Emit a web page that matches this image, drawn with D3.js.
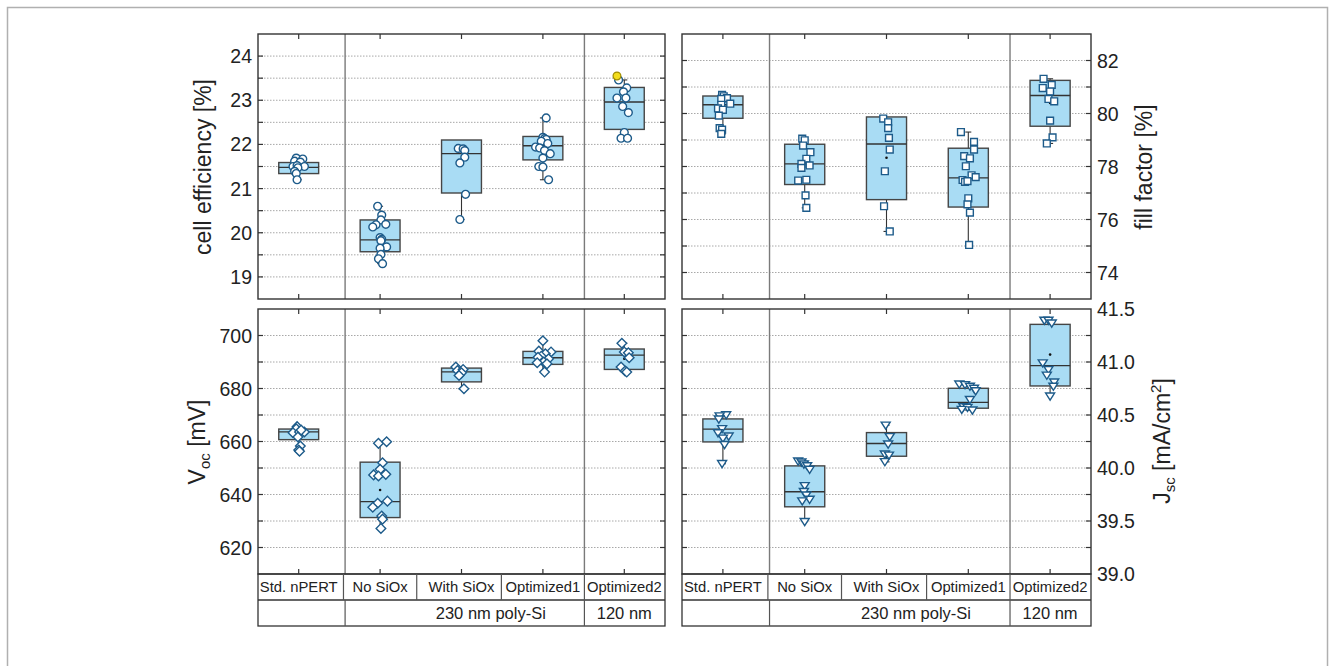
<!DOCTYPE html>
<html>
<head>
<meta charset="utf-8">
<script src="https://cdn.jsdelivr.net/npm/d3@7"></script>
<style>
  html, body { margin: 0; padding: 0; background: #fff; }
  svg { display: block; }
  text { font-family: "Liberation Sans", Arial, Helvetica, sans-serif; fill: #222; }
</style>
</head>
<body>
<svg id="chart" width="1329" height="666"></svg>
<script>
// ---------------- DATA ----------------
const categories = ["Std. nPERT", "No SiOx", "With SiOx", "Optimized1", "Optimized2"];
const groupLabels = ["230 nm poly-Si", "120 nm"];

const effTicks = [19, 20, 21, 22, 23, 24];
const ffTicks = [74, 76, 78, 80, 82];
const vocTicks = [620, 640, 660, 680, 700];
const jscTicks = [39.0, 39.5, 40.0, 40.5, 41.0, 41.5];

// points: [value, jitter in category units]
const effPoints = [
  [[21.69,-0.03],[21.67,0.05],[21.62,-0.05],[21.60,0.02],[21.50,-0.07],[21.52,-0.02],[21.50,0.07],[21.47,-0.01],[21.39,-0.05],[21.34,-0.03],[21.20,-0.02]],
  [[20.60,-0.03],[20.40,0.02],[20.29,0.01],[20.18,-0.05],[20.13,-0.09],[20.19,0.07],[19.89,0],[19.85,0.02],[19.82,0.01],[19.68,0.08],[19.65,0],[19.51,0.01],[19.41,-0.02],[19.30,0.03]],
  [[21.91,-0.04],[21.90,0.02],[21.86,0.04],[21.71,0.04],[21.58,-0.02],[20.87,0.05],[20.30,-0.02]],
  [[22.60,0.04],[22.16,0],[22.13,0.02],[22.11,0.04],[22.07,-0.02],[22.02,0.06],[21.94,-0.09],[21.92,-0.04],[21.86,0.02],[21.79,0.09],[21.69,0],[21.50,-0.05],[21.49,0],[21.20,0.07]],
  [[23.46,-0.07],[23.28,0.03],[23.19,-0.01],[23.05,-0.09],[23.05,0.02],[22.86,-0.02],[22.72,0.05],[22.27,0],[22.14,-0.04],[22.14,0.04]]
];
const effBest = [[4, 23.55, -0.09]]; // [category index, value, jitter]
const effBoxes = [[21.34,21.48,21.59],[19.57,19.84,20.29],[20.90,21.79,22.10],[21.65,21.97,22.18],[22.34,22.96,23.29]];
const effMeans = [null, null, null, null, null];

const ffPoints = [
  [[80.70,-0.01],[80.65,0.01],[80.58,0.05],[80.55,-0.02],[80.37,0.09],[80.33,-0.02],[80.19,-0.06],[80.14,0],[79.92,-0.05],[79.45,-0.04],[79.39,-0.01],[79.23,-0.02]],
  [[79.05,-0.03],[78.99,0],[78.79,-0.02],[78.54,0.07],[78.29,0.02],[78.10,-0.04],[78.04,0.06],[77.95,-0.04],[77.47,-0.08],[77.50,0.02],[76.91,0.01],[76.44,0.02]],
  [[79.81,-0.04],[79.67,0.02],[79.45,0.02],[79.08,0.03],[78.64,0.04],[77.82,-0.02],[76.50,-0.03],[75.55,0.04]],
  [[79.30,-0.09],[78.93,0.07],[78.64,0.07],[78.39,-0.05],[78.31,0.02],[78.01,-0.03],[77.67,0.04],[77.60,0.09],[77.49,-0.07],[77.42,-0.04],[77.45,-0.01],[76.80,0],[76.57,-0.01],[76.26,0.02],[75.04,0.01]],
  [[81.31,-0.08],[81.08,0.02],[80.96,-0.09],[80.83,0],[80.55,-0.02],[80.46,0.05],[79.73,0],[79.10,0.03],[78.87,-0.04]]
];
const ffBoxes = [[79.82,80.33,80.66],[77.32,78.10,78.84],[76.75,78.85,79.87],[76.47,77.57,78.69],[79.52,80.68,81.25]];
const ffMeans = [null, null, 78.33, null, 80.40];

const vocPoints = [
  [[665.6,-0.02],[664.8,-0.03],[663.3,-0.07],[663.6,0.01],[663.6,0.07],[664.3,0.03],[661.7,-0.01],[658.3,0.02],[656.8,0],[656.3,0.01]],
  [[659.3,-0.02],[659.9,0.08],[652.0,0.03],[649.5,0],[647.4,-0.08],[647.0,-0.02],[647.6,0.07],[637.5,0.09],[636.7,-0.03],[635.2,-0.09],[631.9,0.02],[630.7,0.03],[627.2,0.01]],
  [[688.1,-0.07],[686.8,-0.05],[687.2,0.02],[685.9,0],[684.9,-0.03],[679.9,0.03]],
  [[698.0,0],[694.1,-0.05],[693.8,0.1],[693.1,0.03],[692.2,-0.02],[691.8,-0.06],[691.2,0.07],[690.0,0.01],[689.7,-0.07],[689.3,0.05],[686.2,0.02]],
  [[697.1,-0.03],[693.8,0],[693.5,0.05],[691.6,0.06],[688.1,-0.04],[686.6,0.01],[686.2,0.03]]
];
const vocBoxes = [[660.7,663.6,664.7],[631.3,637.3,652.2],[682.5,686.3,687.7],[689.1,691.6,694.0],[687.2,692.6,694.9]];
const vocMeans = [null, 641.7, null, null, 691.2];

const jscPoints = [
  [[40.50,0.04],[40.49,-0.04],[40.46,-0.05],[40.37,-0.01],[40.33,-0.06],[40.30,0.07],[40.28,0],[40.22,0.02],[40.04,-0.01]],
  [[40.064,-0.08],[40.055,-0.04],[40.036,-0.01],[40.02,0.03],[39.986,0.06],[39.832,0],[39.776,-0.01],[39.744,0.02],[39.703,0.06],[39.688,-0.03],[39.493,0]],
  [[40.403,-0.01],[40.294,0.04],[40.224,0.02],[40.13,-0.02],[40.12,0.03],[40.058,-0.02]],
  [[40.79,-0.11],[40.785,-0.04],[40.77,0.02],[40.75,0.07],[40.727,0.09],[40.645,0.02],[40.576,-0.06],[40.57,-0.01],[40.545,0.05],[40.551,-0.08]],
  [[41.392,-0.07],[41.392,-0.02],[41.366,0.02],[40.99,-0.09],[40.928,-0.02],[40.874,-0.04],[40.81,0.05],[40.77,0.04],[40.677,0]]
];
const jscBoxes = [[40.246,40.366,40.463],[39.634,39.776,40.02],[40.111,40.231,40.334],[40.564,40.62,40.752],[40.774,40.965,41.355]];
const jscMeans = [null, null, null, null, 41.07];

// ---------------- STYLE / LAYOUT ----------------
const BOX_FILL = "#a9dcf4";
const BOX_STROKE = "#454545";
const MK_STROKE = "#1d5b8a";
const FRAME = "#333";
const DIVIDER = "#7a7a7a";

const svg = d3.select("#chart");

// outer frame
svg.append("rect").attr("x", 7.5).attr("y", 7.5).attr("width", 1320).attr("height", 720)
  .attr("fill", "none").attr("stroke", "#b0b0b0").attr("stroke-width", 1.5);

const panels = [
  { x0: 258, x1: 665, y0: 34, y1: 299, domain: [18.5, 24.5], grid: d3.range(19, 24.01, 0.5), ticks: effTicks, fmt: d3.format("d"),
    side: "left", pts: effPoints, boxes: effBoxes, means: effMeans, marker: "circle", best: effBest, table: false },
  { x0: 682, x1: 1091, y0: 34, y1: 299, domain: [73, 83], grid: d3.range(74, 82.01, 1), ticks: ffTicks, fmt: d3.format("d"),
    side: "right", pts: ffPoints, boxes: ffBoxes, means: ffMeans, marker: "square", table: false },
  { x0: 258, x1: 665, y0: 309, y1: 574, domain: [610, 710], grid: d3.range(620, 700.1, 10), ticks: vocTicks, fmt: d3.format("d"),
    side: "left", pts: vocPoints, boxes: vocBoxes, means: vocMeans, marker: "diamond", table: true },
  { x0: 682, x1: 1091, y0: 309, y1: 574, domain: [39, 41.5], grid: d3.range(39.25, 41.26, 0.25), ticks: jscTicks, fmt: d3.format(".1f"),
    side: "right", pts: jscPoints, boxes: jscBoxes, means: jscMeans, marker: "triangle", table: true }
];

const dividers = [1.57, 4.51];
const cellBounds = [1.55, 2.45, 3.49, 4.51];
const markerPaths = {
  circle: "M3.9,0A3.9,3.9,0,1,1,-3.9,0A3.9,3.9,0,1,1,3.9,0Z",
  square: "M-3.4,-3.4H3.4V3.4H-3.4Z",
  diamond: "M0,-4.8L4.8,0L0,4.8L-4.8,0Z",
  triangle: "M-4.5,-3.2L4.5,-3.2L0,3.9Z"
};

panels.forEach(p => {
  const g = svg.append("g");
  const x = d3.scaleLinear().domain([0.5, 5.5]).range([p.x0, p.x1]);
  const y = d3.scaleLinear().domain(p.domain).range([p.y1, p.y0]);

  // gridlines
  g.selectAll(".grid").data(p.grid).join("line")
    .attr("x1", p.x0).attr("x2", p.x1)
    .attr("y1", d => y(d)).attr("y2", d => y(d))
    .attr("stroke", "#a8a8a8").attr("stroke-width", 1).attr("stroke-dasharray", "1.5,1.5");

  // dividers
  g.selectAll(".div").data(dividers).join("line")
    .attr("x1", d => x(d)).attr("x2", d => x(d))
    .attr("y1", p.y0).attr("y2", p.y1)
    .attr("stroke", DIVIDER).attr("stroke-width", 1.4);

  // inward ticks at gridlines on both sides
  p.grid.forEach(v => {
    g.append("line").attr("x1", p.x0).attr("x2", p.x0 + 5).attr("y1", y(v)).attr("y2", y(v)).attr("stroke", FRAME).attr("stroke-width", 1.2);
    g.append("line").attr("x1", p.x1 - 5).attr("x2", p.x1).attr("y1", y(v)).attr("y2", y(v)).attr("stroke", FRAME).attr("stroke-width", 1.2);
  });
  // inward ticks at category centers top and bottom
  categories.forEach((c, i) => {
    g.append("line").attr("x1", x(i + 1)).attr("x2", x(i + 1)).attr("y1", p.y0).attr("y2", p.y0 + 5).attr("stroke", FRAME).attr("stroke-width", 1.2);
    g.append("line").attr("x1", x(i + 1)).attr("x2", x(i + 1)).attr("y1", p.y1 - 5).attr("y2", p.y1).attr("stroke", FRAME).attr("stroke-width", 1.2);
  });

  // tick labels
  g.selectAll(".tl").data(p.ticks).join("text")
    .attr("x", p.side === "left" ? p.x0 - 6 : p.x1 + 6)
    .attr("y", d => y(d))
    .attr("dy", "0.36em")
    .attr("text-anchor", p.side === "left" ? "end" : "start")
    .style("font-size", "19.5px")
    .text(d => p.fmt(d));

  // boxes
  const bw = 0.245;
  p.boxes.forEach((b, i) => {
    const cx = i + 1;
    const vals = p.pts[i].map(d => d[0]);
    const [mn, mx] = d3.extent(vals);
    const wk = g.append("g");
    if (mx > b[2]) {
      wk.append("line").attr("x1", x(cx)).attr("x2", x(cx)).attr("y1", y(b[2])).attr("y2", y(mx)).attr("stroke", "#333").attr("stroke-width", 1.1);
      wk.append("line").attr("x1", x(cx) - 3).attr("x2", x(cx) + 3).attr("y1", y(mx)).attr("y2", y(mx)).attr("stroke", "#333").attr("stroke-width", 1.1);
    }
    if (mn < b[0]) {
      wk.append("line").attr("x1", x(cx)).attr("x2", x(cx)).attr("y1", y(b[0])).attr("y2", y(mn)).attr("stroke", "#333").attr("stroke-width", 1.1);
      wk.append("line").attr("x1", x(cx) - 3).attr("x2", x(cx) + 3).attr("y1", y(mn)).attr("y2", y(mn)).attr("stroke", "#333").attr("stroke-width", 1.1);
    }
    g.append("rect")
      .attr("x", x(cx - bw)).attr("width", x(cx + bw) - x(cx - bw))
      .attr("y", y(b[2])).attr("height", y(b[0]) - y(b[2]))
      .attr("fill", BOX_FILL).attr("stroke", BOX_STROKE).attr("stroke-width", 1.4);
    g.append("line").attr("x1", x(cx - bw)).attr("x2", x(cx + bw))
      .attr("y1", y(b[1])).attr("y2", y(b[1])).attr("stroke", "#333").attr("stroke-width", 1.3);
    if (p.means[i] != null) {
      g.append("circle").attr("cx", x(cx)).attr("cy", y(p.means[i])).attr("r", 1.3).attr("fill", "#111");
    }
  });

  // points
  p.pts.forEach((arr, i) => {
    g.selectAll(null).data(arr).join("path")
      .attr("d", markerPaths[p.marker])
      .attr("transform", d => `translate(${x(i + 1 + d[1])},${y(d[0])})`)
      .attr("fill", "#fff").attr("stroke", MK_STROKE).attr("stroke-width", 1.4);
  });
  if (p.best) {
    g.selectAll(null).data(p.best).join("path")
      .attr("d", markerPaths[p.marker])
      .attr("transform", d => `translate(${x(d[0] + 1 + d[2])},${y(d[1])})`)
      .attr("fill", "#f3dd1c").attr("stroke", "#a08c00").attr("stroke-width", 1.2);
  }

  // panel frame
  g.append("rect").attr("x", p.x0).attr("y", p.y0).attr("width", p.x1 - p.x0).attr("height", p.y1 - p.y0)
    .attr("fill", "none").attr("stroke", FRAME).attr("stroke-width", 1.4);

  // label table under bottom panels
  if (p.table) {
    const r1 = p.y1, r2 = p.y1 + 26, r3 = p.y1 + 52;
    const t = svg.append("g");
    t.append("rect").attr("x", p.x0).attr("y", r1).attr("width", p.x1 - p.x0).attr("height", r3 - r1)
      .attr("fill", "none").attr("stroke", FRAME).attr("stroke-width", 1.3);
    t.append("line").attr("x1", p.x0).attr("x2", p.x1).attr("y1", r2).attr("y2", r2).attr("stroke", FRAME).attr("stroke-width", 1.3);
    t.selectAll(".cb").data(cellBounds).join("line")
      .attr("x1", d => x(d)).attr("x2", d => x(d)).attr("y1", r1).attr("y2", r2)
      .attr("stroke", "#555").attr("stroke-width", 1.2);
    t.selectAll(".cb2").data(dividers).join("line")
      .attr("x1", d => x(d)).attr("x2", d => x(d)).attr("y1", r2).attr("y2", r3)
      .attr("stroke", "#555").attr("stroke-width", 1.2);
    t.selectAll(".cl").data(categories).join("text")
      .attr("x", (d, i) => x(i + 1)).attr("y", r1 + 13).attr("dy", "0.36em")
      .attr("text-anchor", "middle").style("font-size", "14.8px").text(d => d);
    t.selectAll(".gl").data(groupLabels).join("text")
      .attr("x", (d, i) => x(i === 0 ? 3.36 : 5)).attr("y", r2 + 13).attr("dy", "0.36em")
      .attr("text-anchor", "middle").style("font-size", "16.5px").text(d => d);
  }
});

// axis titles
function title(xp, yp, parts) {
  const t = svg.append("text").attr("transform", `translate(${xp},${yp}) rotate(-90)`)
    .attr("text-anchor", "middle").style("font-size", "23px");
  parts.forEach(pt => {
    const s = t.append("tspan").text(pt.t);
    if (pt.sub) s.style("font-size", "15px").attr("dy", "5");
    if (pt.sup) s.style("font-size", "15px").attr("dy", "-9");
    if (pt.dy) s.attr("dy", pt.dy);
  });
}
title(211, 167, [{ t: "cell efficiency [%]" }]);
title(205, 442, [{ t: "V" }, { t: "oc", sub: true }, { t: " [mV]", dy: "-5" }]);
title(1152, 167, [{ t: "fill factor [%]" }]);
title(1170, 441, [{ t: "J" }, { t: "sc", sub: true }, { t: " [mA/cm", dy: "-5" }, { t: "2", sup: true }, { t: "]", dy: "9" }]);
</script>
</body>
</html>
